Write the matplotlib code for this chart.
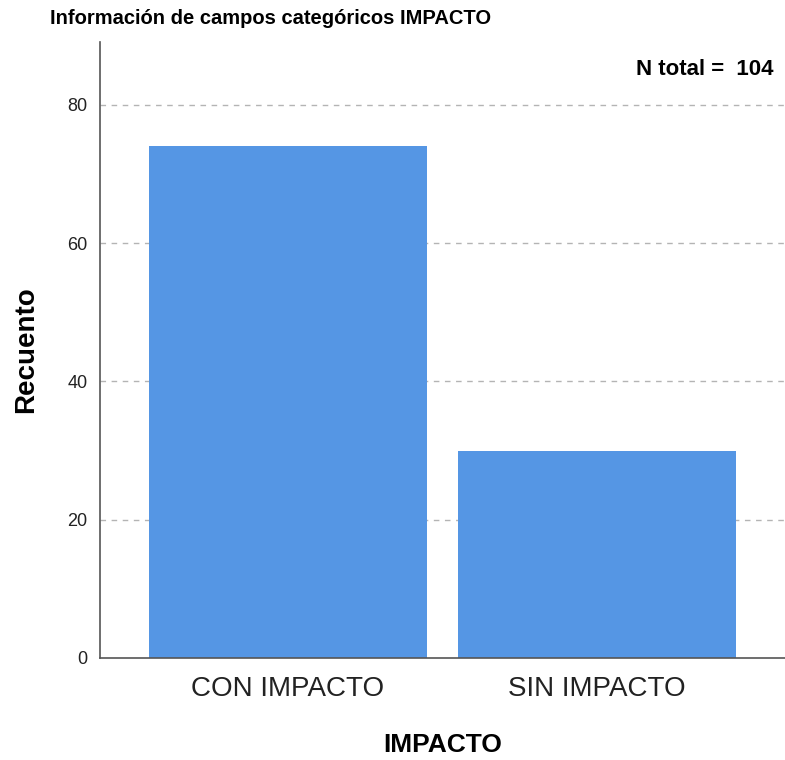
import matplotlib
matplotlib.use("Agg")
import matplotlib.pyplot as plt

categories = ["CON IMPACTO", "SIN IMPACTO"]
counts = [74, 30]
y_ticks = [0, 20, 40, 60, 80]

plt.rcParams['font.family'] = ['Liberation Sans Narrow', 'Liberation Sans', 'DejaVu Sans']

fig = plt.figure(figsize=(7.85, 7.6), dpi=100)
ax = fig.add_axes([100 / 785, 102 / 760, 685 / 785, 616 / 760])

x = list(range(len(categories)))
ax.bar(x, counts, width=0.9, color='#5596e4', zorder=2)

ax.set_xlim(-0.608, 1.608)
ax.set_ylim(0, 89.1)
ax.set_yticks(y_ticks)
ax.set_yticklabels([str(v) for v in y_ticks], fontsize=13)
ax.set_xticks(x)
ax.set_xticklabels(categories, fontsize=20)
ax.tick_params(axis='both', length=0, colors='#222222')
ax.tick_params(axis='y', pad=9)
ax.tick_params(axis='x', pad=13)

for v in y_ticks[1:]:
    ax.axhline(v, color='#b4b4b4', lw=1, ls=(0, (4, 4)), zorder=1)

for s in ['top', 'right']:
    ax.spines[s].set_visible(False)
for s in ['left', 'bottom']:
    ax.spines[s].set_color('#555555')
    ax.spines[s].set_linewidth(1.2)

ax.set_ylabel("Recuento", fontsize=20, fontweight='bold', labelpad=20)
ax.set_xlabel("IMPACTO", fontsize=19, fontweight='bold', labelpad=22)

fig.text(50 / 785, 1 - 19 / 760, "Información de campos categóricos IMPACTO",
         fontsize=14.5, fontweight='bold', va='center', ha='left')
ax.text(0.983, 0.955, f"N total =  {sum(counts)}", transform=ax.transAxes,
        fontsize=16, fontweight='bold', ha='right', va='center')

fig.savefig("out.png", dpi=100)
